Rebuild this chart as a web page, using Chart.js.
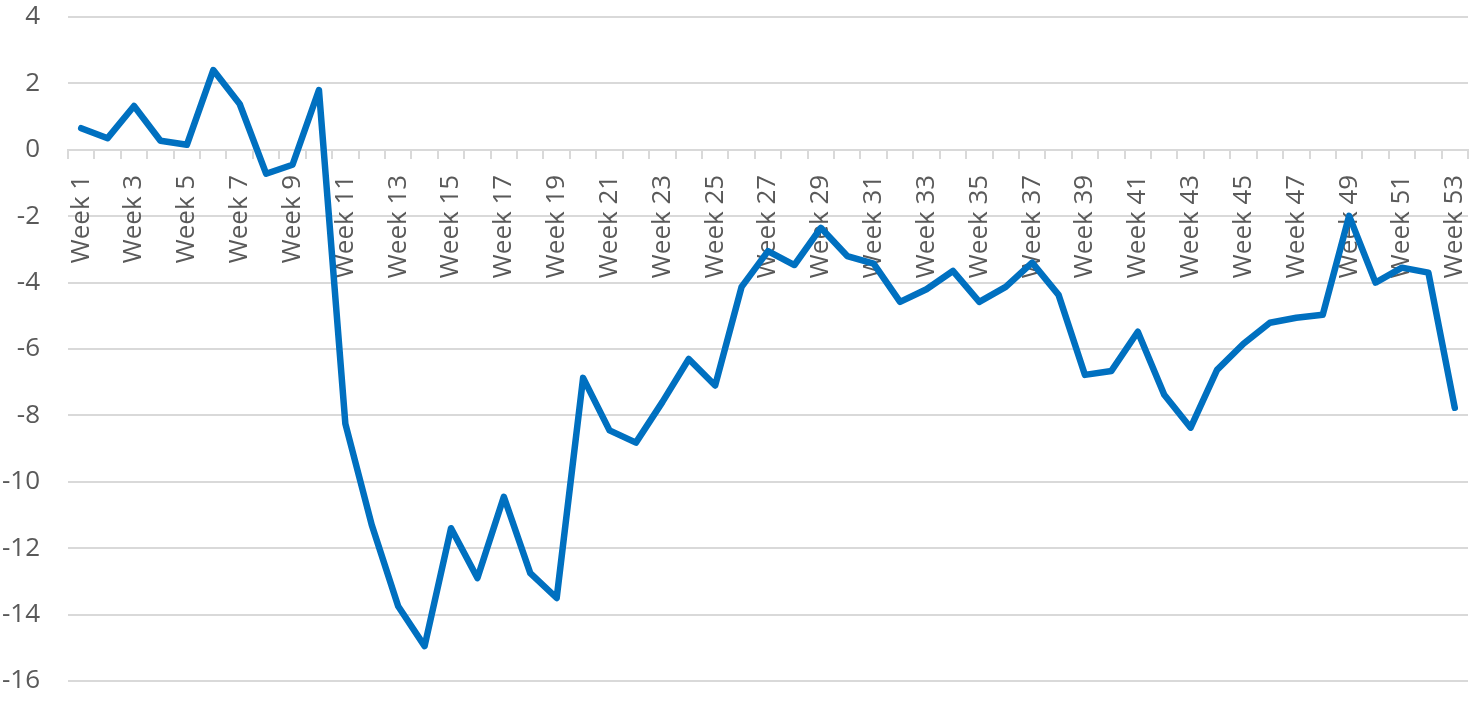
<!DOCTYPE html>
<html>
<head>
<meta charset="utf-8">
<script src="https://cdn.jsdelivr.net/npm/chart.js@4"></script>
<style>
  html, body { margin: 0; padding: 0; background: #fff; }
  #wrap { width: 1477px; height: 701px; }
</style>
</head>
<body>
<div id="wrap"><canvas id="chart" width="1477" height="701"></canvas></div>
<script>
// categories: Week 1 .. Week 53
const weeks = [];
for (let i = 1; i <= 53; i++) weeks.push('Week ' + i);

// values
const values = [
  0.65, 0.35, 1.32, 0.27, 0.15, 2.4, 1.38, -0.72, -0.45, 1.8,
  -8.25, -11.3, -13.75, -14.95, -11.4, -12.9, -10.45, -12.75, -13.5, -6.87,
  -8.45, -8.82, -7.6, -6.3, -7.1, -4.13, -3.05, -3.47, -2.35, -3.2,
  -3.43, -4.58, -4.2, -3.65, -4.58, -4.13, -3.4, -4.37, -6.78, -6.66,
  -5.48, -7.38, -8.37, -6.63, -5.84, -5.21, -5.06, -4.97, -1.99, -4.0,
  -3.55, -3.7, -7.77
];

// y axis ticks
const yMin = -16;
const yMax = 4;
const yStep = 2;

const textColor = '#595959';
const gridColor = '#d9d9d9';
const fontFamily = '"Open Sans", sans-serif';

const ctx = document.getElementById('chart').getContext('2d');
new Chart(ctx, {
  type: 'line',
  data: {
    labels: weeks,
    datasets: [{
      data: values,
      borderColor: '#0070C0',
      borderWidth: 6.5,
      pointRadius: 0,
      tension: 0,
      fill: false,
      borderJoinStyle: 'round',
      borderCapStyle: 'round'
    }]
  },
  options: {
    responsive: false,
    animation: false,
    layout: { padding: { top: 17, bottom: 20, right: 9, left: 0 } },
    plugins: { legend: { display: false }, tooltip: { enabled: false } },
    scales: {
      x: {
        type: 'category',
        position: { y: 0 },
        offset: true,
        afterFit: (scale) => { scale.paddingLeft = 0; scale.paddingRight = 0; },
        grid: {
          display: true,
          drawOnChartArea: false,
          drawTicks: true,
          tickLength: 8,
          offset: true,
          color: gridColor,
          lineWidth: 2
        },
        border: { display: true, color: gridColor, width: 2 },
        ticks: {
          autoSkip: false,
          minRotation: 90,
          maxRotation: 90,
          padding: 17,
          color: textColor,
          font: { family: fontFamily, size: 26 },
          callback: function (value, index) {
            return index % 2 === 0 ? this.getLabelForValue(value) : '';
          }
        }
      },
      y: {
        min: yMin,
        max: yMax,
        afterFit: (scale) => {
          scale.width = 68;
          scale.paddingTop = 0;
          scale.paddingBottom = 0;
        },
        grid: { color: gridColor, lineWidth: 2, drawTicks: false },
        border: { display: false },
        ticks: {
          stepSize: yStep,
          padding: 28,
          color: textColor,
          font: { family: fontFamily, size: 26 }
        }
      }
    }
  }
});
</script>
</body>
</html>
